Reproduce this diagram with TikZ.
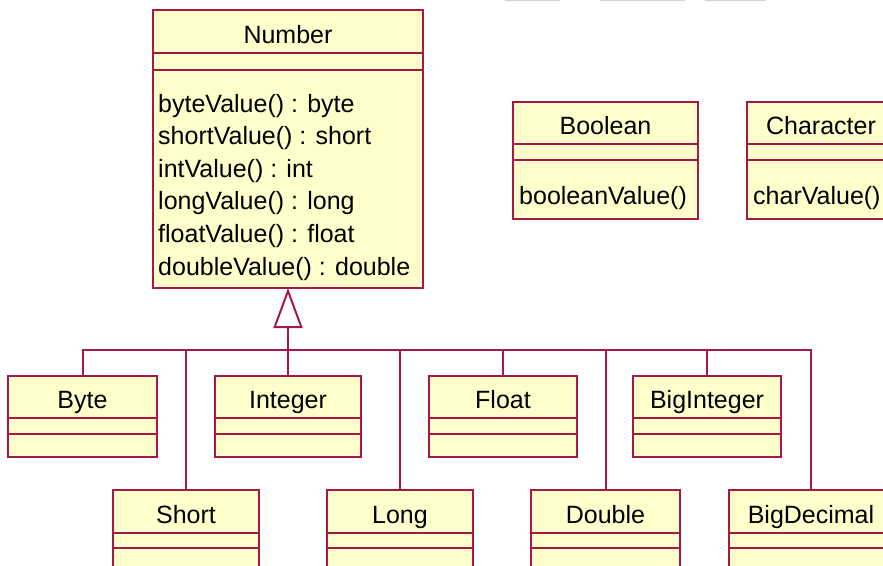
\documentclass[tikz,border=0pt]{standalone}
\usepackage{fontspec}
\setmainfont{Liberation Sans}
\usetikzlibrary{arrows.meta,positioning}
\definecolor{umlred}{RGB}{165,25,70}
\definecolor{umlfill}{RGB}{255,255,204}

\begin{document}
\begin{tikzpicture}[x=1pt,y=-1pt,node distance=0pt,font=\fontsize{25}{32.6}\selectfont,
		box/.style={draw=umlred,fill=umlfill,line width=2pt,inner sep=0pt,outer sep=0pt},
		head/.style={box,anchor=north west,minimum height=42pt,text height=23pt,text depth=0pt},
		comp/.style={box,minimum height=16pt},
		ops/.style={anchor=north west,align=left,inner sep=0pt},
		link/.style={draw=umlred,line width=2pt}]
				\useasboundingbox (0,0) rectangle (883,565);
				% cut-off boxes at the top edge
				\draw [gray!35,line width=1.5pt] (505,0.5) -- (560,0.5) (600,0.5) -- (685,0.5) (705,0.5) -- (766,0.5);
				% superclass
				\node [head,minimum width=270pt,minimum height=43pt] (num) at (153,10) {Number};
				\node [comp,minimum width=270pt,minimum height=17pt,below=of num] (numA) {};
				\node [comp,minimum width=270pt,minimum height=218pt,below=of numA] (numO) {};
				\node [ops] (numOps) at (158,93.8) {byteValue() : byte\\shortValue() : short\\intValue() : int\\longValue() : long\\floatValue() : float\\doubleValue() : double};
				% wrappers outside the hierarchy
				\node [head,minimum width=185pt] (bool) at (513,102) {Boolean};
				\node [comp,minimum width=185pt,below=of bool] (boolA) {};
				\node [comp,minimum width=185pt,minimum height=59pt,below=of boolA] (boolO) {};
				\node [ops] (boolOps) at (519,185.8) {booleanValue()};
				\node [head,minimum width=148pt] (char) at (747,102) {Character};
				\node [comp,minimum width=148pt,below=of char] (charA) {};
				\node [comp,minimum width=148pt,minimum height=59pt,below=of charA] (charO) {};
				\node [ops] (charOps) at (753,185.8) {charValue()};
				% first row of subclasses
				\node [head,minimum width=149pt] (byte) at (8,376) {Byte};
				\node [comp,minimum width=149pt,below=of byte] (byteA) {};
				\node [comp,minimum width=149pt,minimum height=23pt,below=of byteA] (byteO) {};
				\node [head,minimum width=146pt] (int) at (215,376) {Integer};
				\node [comp,minimum width=146pt,below=of int] (intA) {};
				\node [comp,minimum width=146pt,minimum height=23pt,below=of intA] (intO) {};
				\node [head,minimum width=148pt] (float) at (429,376) {Float};
				\node [comp,minimum width=148pt,below=of float] (floatA) {};
				\node [comp,minimum width=148pt,minimum height=23pt,below=of floatA] (floatO) {};
				\node [head,minimum width=148pt] (bigint) at (633,376) {BigInteger};
				\node [comp,minimum width=148pt,below=of bigint] (bigintA) {};
				\node [comp,minimum width=148pt,minimum height=23pt,below=of bigintA] (bigintO) {};
				% second row of subclasses
				\node [head,minimum width=146pt,minimum height=43pt] (short) at (113,490) {Short};
				\node [comp,minimum width=146pt,minimum height=15pt,below=of short] (shortA) {};
				\node [comp,minimum width=146pt,minimum height=40pt,below=of shortA] (shortO) {};
				\node [head,minimum width=146pt,minimum height=43pt] (long) at (327,490) {Long};
				\node [comp,minimum width=146pt,minimum height=15pt,below=of long] (longA) {};
				\node [comp,minimum width=146pt,minimum height=40pt,below=of longA] (longO) {};
				\node [head,minimum width=149pt,minimum height=43pt] (double) at (531,490) {Double};
				\node [comp,minimum width=149pt,minimum height=15pt,below=of double] (doubleA) {};
				\node [comp,minimum width=149pt,minimum height=40pt,below=of doubleA] (doubleO) {};
				\node [head,minimum width=164pt,minimum height=43pt] (bigdec) at (729,490) {BigDecimal};
				\node [comp,minimum width=164pt,minimum height=15pt,below=of bigdec] (bigdecA) {};
				\node [comp,minimum width=164pt,minimum height=40pt,below=of bigdecA] (bigdecO) {};
				% generalisation
				\coordinate (bus) at (0,350);
				\draw [link] (byte.north) |- (bus -| bigdec.north) -- (bigdec.north);
				\draw [link,-{Triangle[open,length=40pt,width=29pt]}] (int.north) -- (numO.south);
				\foreach \c in {short,long,float,double,bigint}
						\draw [link] (\c.north) -- (\c.north |- bus);
			\end{tikzpicture}
\end{document}
